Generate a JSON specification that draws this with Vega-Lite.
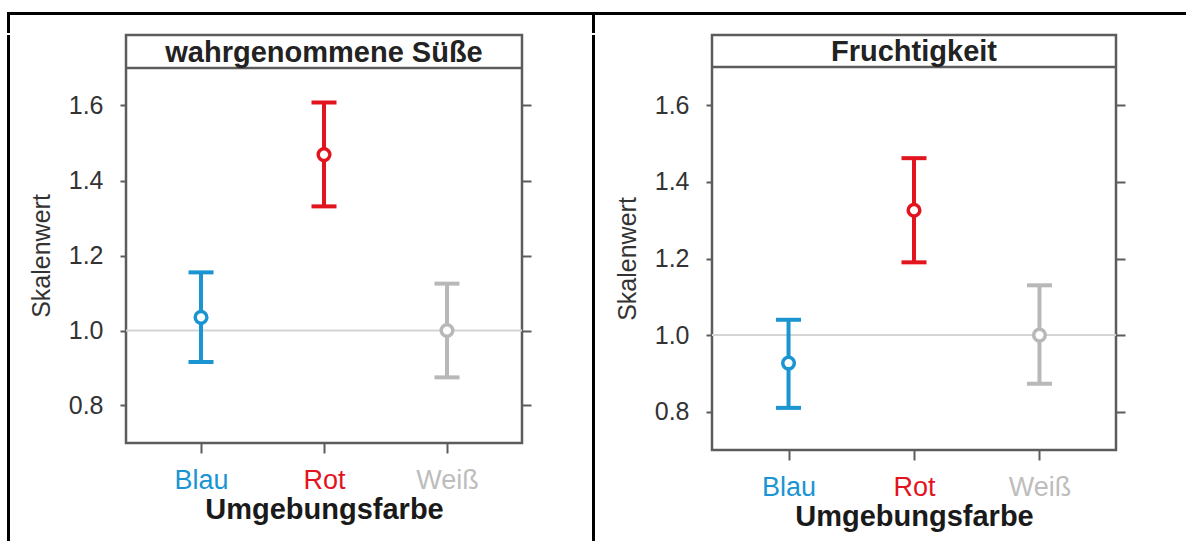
{
  "$schema": "https://vega.github.io/schema/vega-lite/v6.json",
  "padding": {"left": 7, "top": 12, "right": 0, "bottom": 0},
  "background": "white",
  "config": {
    "font": "Liberation Sans",
    "view": {"stroke": null},
    "concat": {"spacing": 0}
  },
  "datasets": {
    "werte": [
      {"merkmal": "wahrgenommene Süße", "farbe": "Blau", "mittel": 1.035, "unten": 0.916, "oben": 1.155},
      {"merkmal": "wahrgenommene Süße", "farbe": "Rot", "mittel": 1.469, "unten": 1.331, "oben": 1.608},
      {"merkmal": "wahrgenommene Süße", "farbe": "Weiß", "mittel": 1.0, "unten": 0.875, "oben": 1.125},
      {"merkmal": "Fruchtigkeit", "farbe": "Blau", "mittel": 0.927, "unten": 0.81, "oben": 1.04},
      {"merkmal": "Fruchtigkeit", "farbe": "Rot", "mittel": 1.326, "unten": 1.19, "oben": 1.462},
      {"merkmal": "Fruchtigkeit", "farbe": "Weiß", "mittel": 1.0, "unten": 0.873, "oben": 1.13}
    ],
    "kopf": [
      {"merkmal": "wahrgenommene Süße"},
      {"merkmal": "Fruchtigkeit"}
    ],
    "bezug": [
      {"referenz": 1.0}
    ],
    "leer": []
  },
  "spacing": 0,
  "vconcat": [
    {
      "width": 1179, "height": 3,
      "data": {"name": "leer"},
      "mark": "point",
      "encoding": {},
      "view": {"fill": "black", "stroke": null}
    },
    {
      "bounds": "flush",
      "spacing": 0,
      "hconcat": [
        {"width": 3, "height": 18, "data": {"name": "leer"}, "mark": "point", "encoding": {}, "view": {"fill": "black", "stroke": null}},
        {"width": 582, "height": 18, "data": {"name": "leer"}, "mark": "point", "encoding": {}, "view": {"fill": "white", "stroke": null}},
        {"width": 3, "height": 18, "data": {"name": "leer"}, "mark": "point", "encoding": {}, "view": {"fill": "black", "stroke": null}},
        {"width": 591, "height": 18, "data": {"name": "leer"}, "mark": "point", "encoding": {}, "view": {"fill": "white", "stroke": null}}
      ]
    },
    {
      "bounds": "flush",
      "spacing": 0,
      "hconcat": [
        {"width": 3, "height": 508, "data": {"name": "leer"}, "mark": "point", "encoding": {}, "view": {"fill": "black", "stroke": null}},
        {"width": 116, "height": 1, "data": {"name": "leer"}, "mark": "point", "encoding": {}},
        {
          "width": 396, "height": 408,
          "data": {"name": "werte"},
          "transform": [{"filter": "datum.merkmal === 'wahrgenommene Süße'"}],
          "view": {"stroke": "#5c5c5c", "strokeWidth": 2.5},
          "resolve": {"axis": {"y": "independent"}},
          "layer": [
            {
              "data": {"name": "bezug"},
              "mark": {"type": "rule", "color": "#d4d4d4", "strokeWidth": 2},
              "encoding": {
                "y": {"field": "referenz", "type": "quantitative",
                  "scale": {"domain": [0.7, 1.788], "nice": false, "zero": false},
                  "axis": {"orient": "left", "values": [0.8, 1.0, 1.2, 1.4, 1.6], "format": ".1f", "domain": false, "grid": false,
                    "tickSize": 6, "tickWidth": 2, "tickColor": "#5c5c5c", "labelFontSize": 25, "labelColor": "#333333", "labelPadding": 17,
                    "title": "Skalenwert", "titleFontSize": 25, "titleFontWeight": "normal", "titleColor": "#333333", "titlePadding": 14, "titleY": 220.5}}
              }
            },
            {
              "data": {"name": "bezug"},
              "mark": {"type": "rule", "color": "#5c5c5c", "strokeWidth": 2.5},
              "encoding": {"y": {"datum": 1.7, "type": "quantitative", "axis": null}}
            },
            {
              "data": {"name": "kopf"},
              "transform": [{"filter": "datum.merkmal === 'wahrgenommene Süße'"}],
              "mark": {"type": "text", "fontSize": 29, "fontWeight": "bold", "color": "#222222", "baseline": "middle", "align": "center", "dy": 1},
              "encoding": {
                "text": {"field": "merkmal", "type": "nominal"},
                "y": {"datum": 1.744, "type": "quantitative", "axis": null}
              }
            },
            {
              "mark": {"type": "rule", "strokeWidth": 4},
              "encoding": {
                "x": {"field": "farbe", "type": "nominal",
                  "scale": {"type": "point", "padding": 0.61, "domain": ["Blau", "Rot", "Weiß"]},
                  "axis": {"orient": "bottom", "domain": false, "grid": false, "labelAngle": 0, "tickSize": 10, "tickWidth": 2, "tickColor": "#5c5c5c",
                    "labelFontSize": 27, "labelPadding": 14,
                    "labelColor": {"expr": "datum.value === 'Blau' ? '#1a95d2' : datum.value === 'Rot' ? '#e2141e' : '#bdbdbd'"},
                    "title": "Umgebungsfarbe", "titleFontSize": 29, "titleFontWeight": "bold", "titleColor": "#1a1a1a", "titlePadding": 2}},
                "y": {"field": "unten", "type": "quantitative",
                  "axis": {"orient": "right", "values": [0.8, 1.0, 1.2, 1.4, 1.6], "labels": false, "domain": false, "grid": false, "title": null,
                    "tickSize": 9, "tickWidth": 2, "tickColor": "#5c5c5c"}},
                "y2": {"field": "oben"},
                "color": {"field": "farbe", "type": "nominal", "legend": null,
                  "scale": {"domain": ["Blau", "Rot", "Weiß"], "range": ["#1a95d2", "#e2141e", "#b8b8b8"]}}
              }
            },
            {
              "mark": {"type": "tick", "thickness": 4, "size": 25, "opacity": 1},
              "encoding": {
                "x": {"field": "farbe", "type": "nominal"},
                "y": {"field": "oben", "type": "quantitative", "axis": null},
                "color": {"field": "farbe", "type": "nominal", "legend": null}
              }
            },
            {
              "mark": {"type": "tick", "thickness": 4, "size": 25, "opacity": 1},
              "encoding": {
                "x": {"field": "farbe", "type": "nominal"},
                "y": {"field": "unten", "type": "quantitative", "axis": null},
                "color": {"field": "farbe", "type": "nominal", "legend": null}
              }
            },
            {
              "mark": {"type": "point", "shape": "circle", "filled": false, "fill": "white", "fillOpacity": 1, "strokeWidth": 3.5, "size": 135, "opacity": 1},
              "encoding": {
                "x": {"field": "farbe", "type": "nominal"},
                "y": {"field": "mittel", "type": "quantitative", "axis": null},
                "stroke": {"field": "farbe", "type": "nominal", "legend": null,
                  "scale": {"domain": ["Blau", "Rot", "Weiß"], "range": ["#1a95d2", "#e2141e", "#b8b8b8"]}}
              }
            }
          ]
        },
        {"width": 70, "height": 1, "data": {"name": "leer"}, "mark": "point", "encoding": {}},
        {"width": 3, "height": 508, "data": {"name": "leer"}, "mark": "point", "encoding": {}, "view": {"fill": "black", "stroke": null}},
        {"width": 117, "height": 1, "data": {"name": "leer"}, "mark": "point", "encoding": {}},
        {
          "width": 404, "height": 415,
          "data": {"name": "werte"},
          "transform": [{"filter": "datum.merkmal === 'Fruchtigkeit'"}],
          "view": {"stroke": "#5c5c5c", "strokeWidth": 2.5},
          "resolve": {"axis": {"y": "independent"}},
          "layer": [
            {
              "data": {"name": "bezug"},
              "mark": {"type": "rule", "color": "#d4d4d4", "strokeWidth": 2},
              "encoding": {
                "y": {"field": "referenz", "type": "quantitative",
                  "scale": {"domain": [0.7, 1.7836], "nice": false, "zero": false},
                  "axis": {"orient": "left", "values": [0.8, 1.0, 1.2, 1.4, 1.6], "format": ".1f", "domain": false, "grid": false,
                    "tickSize": 6, "tickWidth": 2, "tickColor": "#5c5c5c", "labelFontSize": 25, "labelColor": "#333333", "labelPadding": 17,
                    "title": "Skalenwert", "titleFontSize": 25, "titleFontWeight": "normal", "titleColor": "#333333", "titlePadding": 14, "titleY": 223.5}}
              }
            },
            {
              "data": {"name": "bezug"},
              "mark": {"type": "rule", "color": "#5c5c5c", "strokeWidth": 2.5},
              "encoding": {"y": {"datum": 1.7, "type": "quantitative", "axis": null}}
            },
            {
              "data": {"name": "kopf"},
              "transform": [{"filter": "datum.merkmal === 'Fruchtigkeit'"}],
              "mark": {"type": "text", "fontSize": 29, "fontWeight": "bold", "color": "#222222", "baseline": "middle", "align": "center", "dy": 1},
              "encoding": {
                "text": {"field": "merkmal", "type": "nominal"},
                "y": {"datum": 1.7418, "type": "quantitative", "axis": null}
              }
            },
            {
              "mark": {"type": "rule", "strokeWidth": 4},
              "encoding": {
                "x": {"field": "farbe", "type": "nominal",
                  "scale": {"type": "point", "padding": 0.61, "domain": ["Blau", "Rot", "Weiß"]},
                  "axis": {"orient": "bottom", "domain": false, "grid": false, "labelAngle": 0, "tickSize": 10, "tickWidth": 2, "tickColor": "#5c5c5c",
                    "labelFontSize": 27, "labelPadding": 14,
                    "labelColor": {"expr": "datum.value === 'Blau' ? '#1a95d2' : datum.value === 'Rot' ? '#e2141e' : '#bdbdbd'"},
                    "title": "Umgebungsfarbe", "titleFontSize": 29, "titleFontWeight": "bold", "titleColor": "#1a1a1a", "titlePadding": 2}},
                "y": {"field": "unten", "type": "quantitative",
                  "axis": {"orient": "right", "values": [0.8, 1.0, 1.2, 1.4, 1.6], "labels": false, "domain": false, "grid": false, "title": null,
                    "tickSize": 9, "tickWidth": 2, "tickColor": "#5c5c5c"}},
                "y2": {"field": "oben"},
                "color": {"field": "farbe", "type": "nominal", "legend": null,
                  "scale": {"domain": ["Blau", "Rot", "Weiß"], "range": ["#1a95d2", "#e2141e", "#b8b8b8"]}}
              }
            },
            {
              "mark": {"type": "tick", "thickness": 4, "size": 25, "opacity": 1},
              "encoding": {
                "x": {"field": "farbe", "type": "nominal"},
                "y": {"field": "oben", "type": "quantitative", "axis": null},
                "color": {"field": "farbe", "type": "nominal", "legend": null}
              }
            },
            {
              "mark": {"type": "tick", "thickness": 4, "size": 25, "opacity": 1},
              "encoding": {
                "x": {"field": "farbe", "type": "nominal"},
                "y": {"field": "unten", "type": "quantitative", "axis": null},
                "color": {"field": "farbe", "type": "nominal", "legend": null}
              }
            },
            {
              "mark": {"type": "point", "shape": "circle", "filled": false, "fill": "white", "fillOpacity": 1, "strokeWidth": 3.5, "size": 135, "opacity": 1},
              "encoding": {
                "x": {"field": "farbe", "type": "nominal"},
                "y": {"field": "mittel", "type": "quantitative", "axis": null},
                "stroke": {"field": "farbe", "type": "nominal", "legend": null,
                  "scale": {"domain": ["Blau", "Rot", "Weiß"], "range": ["#1a95d2", "#e2141e", "#b8b8b8"]}}
              }
            }
          ]
        },
        {"width": 70, "height": 1, "data": {"name": "leer"}, "mark": "point", "encoding": {}}
      ]
    }
  ]
}
